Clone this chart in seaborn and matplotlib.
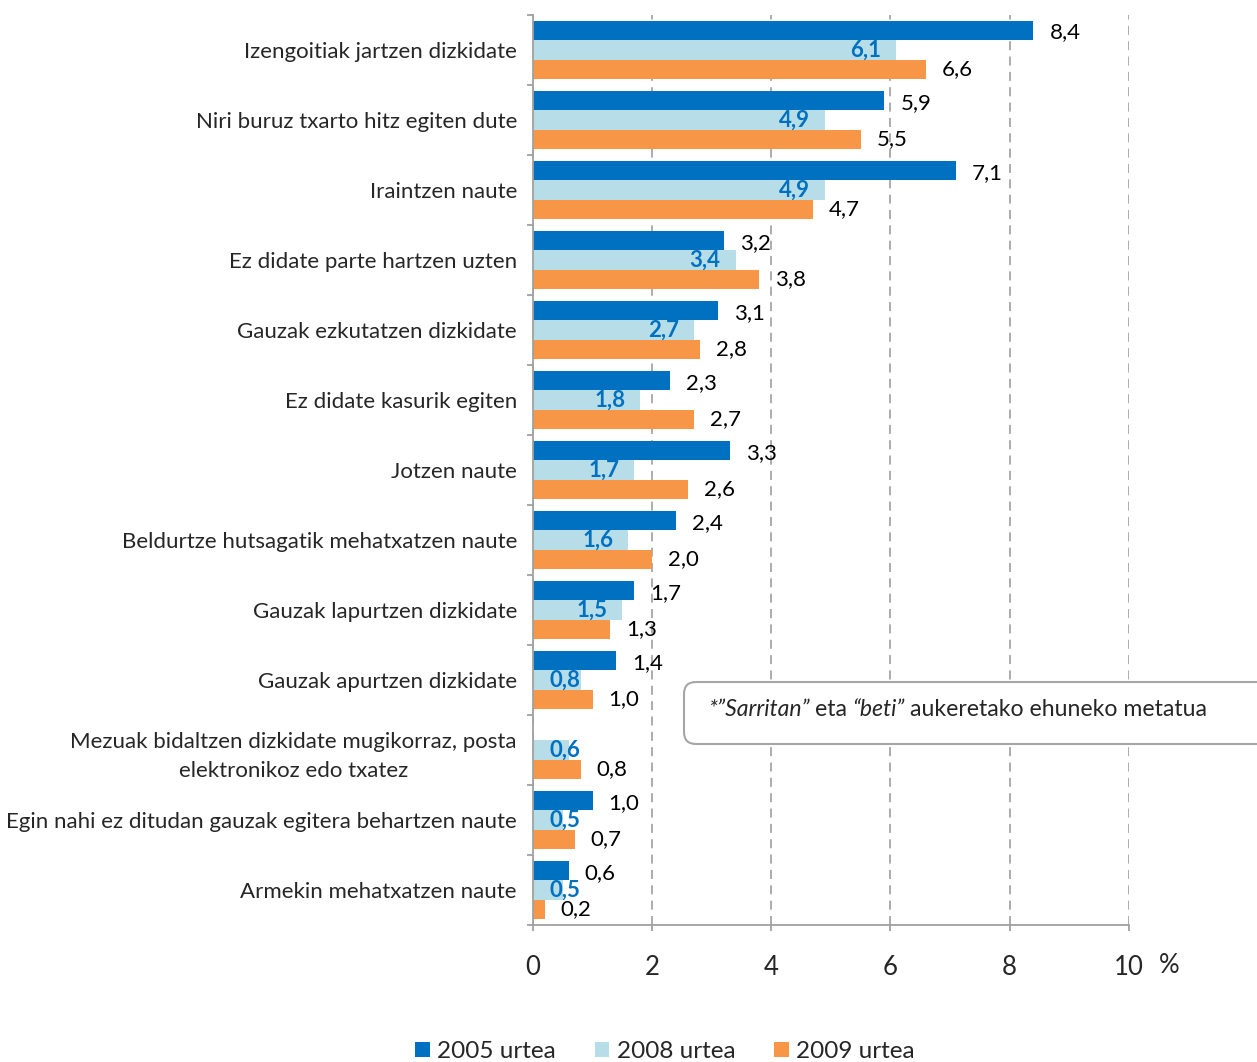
import numpy as np
import pandas as pd
import matplotlib
matplotlib.use("Agg")
import matplotlib.pyplot as plt
from matplotlib.patches import FancyBboxPatch
from matplotlib.ticker import FixedLocator
import seaborn as sns

# === Data ===
categories = [
    "Izengoitiak jartzen dizkidate",
    "Niri buruz txarto hitz egiten dute",
    "Iraintzen naute",
    "Ez didate parte hartzen uzten",
    "Gauzak ezkutatzen dizkidate",
    "Ez didate kasurik egiten",
    "Jotzen naute",
    "Beldurtze hutsagatik mehatxatzen naute",
    "Gauzak lapurtzen dizkidate",
    "Gauzak apurtzen dizkidate",
    "Mezuak bidaltzen dizkidate mugikorraz, posta\nelektronikoz edo txatez",
    "Egin nahi ez ditudan gauzak egitera behartzen naute",
    "Armekin mehatxatzen naute",
]
years = ["2005 urtea", "2008 urtea", "2009 urtea"]
v2005 = [8.4, 5.9, 7.1, 3.2, 3.1, 2.3, 3.3, 2.4, 1.7, 1.4, np.nan, 1.0, 0.6]
v2008 = [6.1, 4.9, 4.9, 3.4, 2.7, 1.8, 1.7, 1.6, 1.5, 0.8, 0.6, 0.5, 0.5]
v2009 = [6.6, 5.5, 4.7, 3.8, 2.8, 2.7, 2.6, 2.0, 1.3, 1.0, 0.8, 0.7, 0.2]
x_ticks = [0, 2, 4, 6, 8, 10]
note_parts = ["*\u201dSarritan\u201d", "eta", "\u201cbeti\u201d", "aukeretako ehuneko metatua"]

colors = {"2005 urtea": "#0070C0", "2008 urtea": "#B7DEE8", "2009 urtea": "#F79646"}

df = pd.DataFrame({
    "kategoria": categories * 3,
    "urtea": [years[0]] * 13 + [years[1]] * 13 + [years[2]] * 13,
    "balioa": v2005 + v2008 + v2009,
}).dropna()

sns.set_style("white")
plt.rcParams["font.family"] = ["Lato", "DejaVu Sans"]
narrow = ["Liberation Sans Narrow", "Lato", "DejaVu Sans"]
fs = 16

fig = plt.figure(figsize=(12.57, 10.62), dpi=100)
ax = fig.add_axes([0.424, 0.129, 0.474, 0.857])

sns.barplot(data=df, x="balioa", y="kategoria", hue="urtea", order=categories,
            hue_order=years, palette=colors, orient="h", width=0.83,
            saturation=1, errorbar=None, ax=ax, linewidth=0)

# === Value labels ===
for cont, yr in zip(ax.containers, years):
    for p in cont.patches:
        w = p.get_width()
        yc = p.get_y() + p.get_height() / 2
        txt = f"{w:.1f}".replace(".", ",")
        if yr == "2008 urtea":
            ax.text(max(w - 0.25, 0.79), yc, txt, ha="right", va="center",
                    fontsize=fs, fontweight="bold", color="#0070C0")
        else:
            dy = -1.5 if yr == "2005 urtea" else 0
            ax.annotate(txt, (w, yc), xytext=(11.5, dy), textcoords="offset points",
                        ha="left", va="center", fontsize=fs, color="black")

# === Axes styling ===
ax.set_xlim(0, 10.001)
ax.set_ylim(len(categories) - 0.5, -0.5)
ax.set_xlabel("")
ax.set_ylabel("")
ax.set_xticks(x_ticks)
ax.set_xticklabels([str(t) for t in x_ticks], fontsize=18.5, family=narrow)
ax.set_yticks(range(len(categories)))
ax.set_yticklabels(categories, fontsize=fs, multialignment="center", linespacing=1.55)
ax.yaxis.set_minor_locator(FixedLocator(np.arange(-0.5, len(categories), 1)))
ax.tick_params(axis="y", which="major", length=0, pad=11.5)
ax.tick_params(axis="y", which="minor", left=True, length=4.5, width=1.3, color="#A0A0A0")
ax.tick_params(axis="x", bottom=True, length=4.5, width=1.3, color="#A0A0A0", pad=17)

for s in ["top", "right"]:
    ax.spines[s].set_visible(False)
for s in ["left", "bottom"]:
    ax.spines[s].set_color("#A0A0A0")
    ax.spines[s].set_linewidth(1.3)

ax.grid(axis="x", color="#A6A6A6", linewidth=1.3, linestyle=(0, (5, 3.5)))
ax.grid(axis="y", visible=False)
ax.set_axisbelow(True)

ax.annotate("%", xy=(1, 0), xycoords="axes fraction", xytext=(21.5, -29.5),
            textcoords="offset points", ha="left", va="center", fontsize=18.5,
            family=narrow, annotation_clip=False)

# === Legend at the bottom ===
handles, labels = ax.get_legend_handles_labels()
ax.legend_.remove()
fig.legend(handles, labels, loc="center", bbox_to_anchor=(0.529, 0.010), ncol=3,
           frameon=False, prop={"family": narrow, "size": 17.5}, handlelength=0.6,
           handleheight=0.6, handletextpad=0.3, columnspacing=1.6)

# === Note box ===
box = FancyBboxPatch((6.84, 3.18), 6.2, 0.62, boxstyle="round,pad=0,rounding_size=0.12",
                     transform=fig.dpi_scale_trans, facecolor="white",
                     edgecolor="#A6A6A6", linewidth=1.5, clip_on=False, zorder=5)
ax.add_patch(box)

note_fs = 16.6
t = ax.text(7.08, 3.52, note_parts[0], transform=fig.dpi_scale_trans, fontsize=note_fs,
            style="italic", ha="left", va="center", zorder=6, clip_on=False)
for i, part in enumerate(note_parts[1:]):
    t = ax.annotate(part, xy=(1, 0.5), xycoords=t, xytext=(3.8, 0),
                    textcoords="offset points", ha="left", va="center", fontsize=note_fs,
                    style="italic" if i == 1 else "normal", zorder=6,
                    annotation_clip=False)

fig.savefig("out.png", dpi=100)
